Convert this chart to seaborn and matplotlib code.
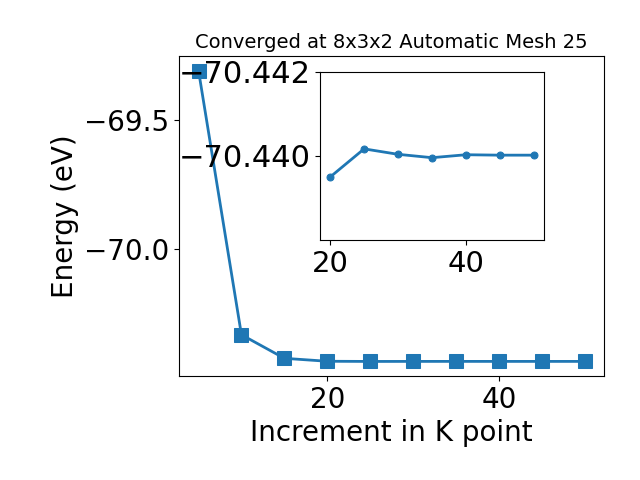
import matplotlib
matplotlib.use("Agg")
import matplotlib.pyplot as plt
import seaborn as sns
import pandas as pd

# Data
kpoints = [5, 10, 15, 20, 25, 30, 35, 40, 45, 50]
energy = [-69.305, -70.336, -70.428, -70.4395, -70.44017, -70.44004, -70.43996, -70.44003, -70.44002, -70.44002]
inset_k = [20, 25, 30, 35, 40, 45, 50]
inset_energy = [-70.4395, -70.44017, -70.44004, -70.43996, -70.44003, -70.44002, -70.44002]
inset_yticks = [-70.442, -70.440]

title = "Converged at 8x3x2 Automatic Mesh 25"
xlabel = "Increment in K point"
ylabel = "Energy (eV)"

df = pd.DataFrame({"k": kpoints, "E": energy})
dfi = pd.DataFrame({"k": inset_k, "E": inset_energy})

fig = plt.figure(figsize=(6.4, 4.8), dpi=100)
ax = fig.add_axes([0.280, 0.2167, 0.664, 0.6667])
sns.lineplot(data=df, x="k", y="E", marker="s", markersize=10, linewidth=2,
             color="#1f77b4", markeredgecolor="#1f77b4", ax=ax)
ax.set_xticks([20, 40])
ax.set_yticks([-69.5, -70.0])
ax.tick_params(labelsize=20)
ax.set_xlabel(xlabel, fontsize=20)
ax.set_ylabel(ylabel, fontsize=20)
ax.set_title(title, fontsize=14)

axins = fig.add_axes([0.5, 0.5, 0.35, 0.35])
sns.lineplot(data=dfi, x="k", y="E", marker="o", markersize=5, linewidth=2,
             color="#1f77b4", markeredgecolor="#1f77b4", ax=axins)
axins.set_ylim(-70.438, -70.442)
axins.set_yticks(inset_yticks)
axins.set_yticklabels([f"{v:.3f}".replace("-", "\u2212") for v in inset_yticks])
axins.set_xticks([20, 40])
axins.tick_params(labelsize=21)
axins.tick_params(axis="y", labelsize=22)
axins.set_xlabel("")
axins.set_ylabel("")

fig.savefig("out.png", dpi=100)
